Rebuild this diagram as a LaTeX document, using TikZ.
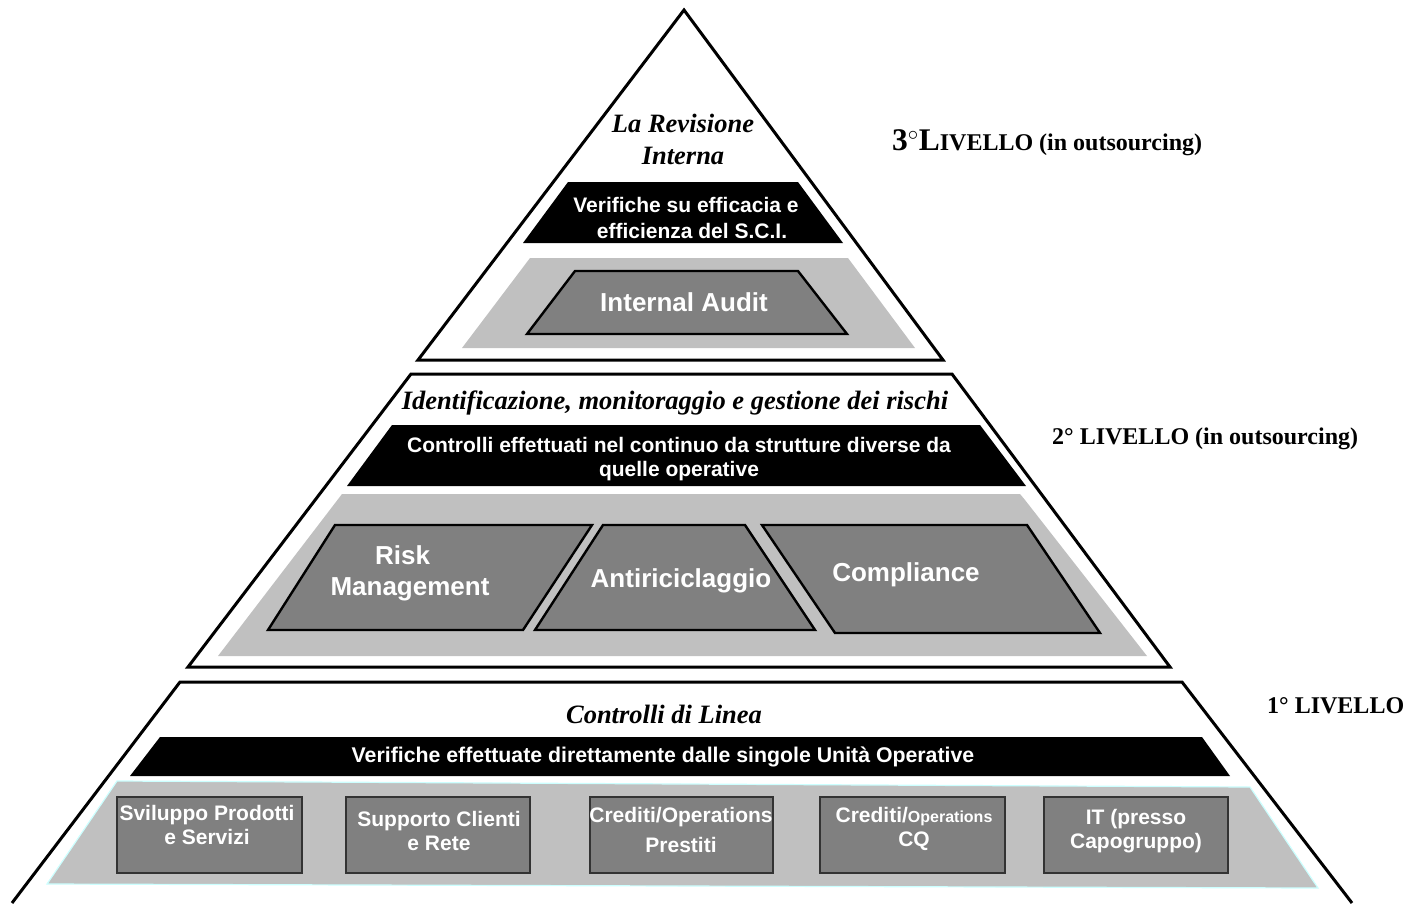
\documentclass[tikz,border=0pt]{standalone}
\usepackage{fontspec}
\setmainfont{Liberation Serif}
\newfontfamily\arialf{Liberation Sans}
\definecolor{lgray}{HTML}{C0C0C0}
\definecolor{dgray}{HTML}{808080}
\definecolor{lcyan}{HTML}{CCFFFF}
\tikzset{
  outline/.style={draw=black, line width=3pt, line join=miter},
  blackband/.style={fill=black},
  lightband/.style={fill=lgray},
  darkbox/.style={fill=dgray, draw=black, line width=2.4pt},
  unitbox/.style={fill=dgray, draw=black!80, line width=1.2pt},
  wtxt/.style={text=white, font=\arialf\bfseries\fontsize{21}{24}\selectfont, align=center, inner sep=0pt},
  bigtxt/.style={text=white, font=\arialf\bfseries\fontsize{26}{31}\selectfont, align=center, inner sep=0pt},
  head/.style={font=\bfseries\itshape\fontsize{26.5}{32}\selectfont, align=center, inner sep=0pt},
  lvl/.style={font=\bfseries\fontsize{24}{28}\selectfont, anchor=base west, inner sep=0pt}
}
\begin{document}
\begin{tikzpicture}[x=1pt,y=-1pt]
\useasboundingbox (0,0) rectangle (1416,903);
% ---------- Level 3 ----------
\draw[outline] (684,10) -- (943,360) -- (418,360) -- cycle;
\node[head] (h3) at (683,139) {La Revisione\\Interna};
\fill[blackband] (568,182) -- (798,182) -- (843,243) -- (523,243) -- cycle;
\node[wtxt, font=\arialf\bfseries\fontsize{21}{26}\selectfont] (t3) at (686,218) {Verifiche su efficacia e\\\hspace*{12pt}efficienza del S.C.I.};
\fill[lightband] (530,258) -- (848,258) -- (915,348) -- (462,348) -- cycle;
\draw[darkbox] (575,271) -- (798,271) -- (847,334) -- (527,334) -- cycle;
\node[bigtxt] (ia) at (684,302) {Internal Audit};
% ---------- Level 2 ----------
\draw[outline] (411,374) -- (952,374) -- (1170,667) -- (188,667) -- cycle;
\node[head] (h2) at (675,403) {Identificazione, monitoraggio e gestione dei rischi};
\fill[blackband] (392,425) -- (980,425) -- (1026,486) -- (347,486) -- cycle;
\node[wtxt] (t2) at (679,459) {Controlli effettuati nel continuo da strutture diverse da\\quelle operative};
\fill[lightband] (342,494) -- (1020,494) -- (1025,500) -- (1147,656) -- (218,656) -- cycle;
\draw[darkbox] (335,525) -- (592,525) -- (523,630) -- (268,630) -- cycle;
\node[bigtxt] (rm) at (410,573) {\hspace*{-15pt}Risk\\Management};
\draw[darkbox] (603,525) -- (745,525) -- (815,630) -- (535,630) -- cycle;
\node[bigtxt] (ar) at (681,581) {Antiriciclaggio};
\draw[darkbox] (762,525) -- (1027,525) -- (1100,633) -- (835,633) -- cycle;
\node[bigtxt] (co) at (906,575) {Compliance};
% ---------- Level 1 ----------
\draw[outline] (12,903) -- (180,682) -- (1182,682) -- (1352,903);
\node[head] (h1) at (664,714) {Controlli di Linea};
\fill[blackband] (160,737) -- (1202,737) -- (1230,776) -- (130,776) -- cycle;
\node[wtxt, font=\arialf\bfseries\fontsize{21.3}{24}\selectfont] (t1) at (663,757) {Verifiche effettuate direttamente dalle singole Unità Operative};
\filldraw[fill=lgray, draw=lcyan, line width=1.2pt] (117,781) -- (1250,787) -- (1318,888) -- (47,884) -- cycle;
\draw[unitbox] (117,797) rectangle (302,873);
\node[wtxt] (u1) at (207,825) {Sviluppo Prodotti\\e Servizi};
\draw[unitbox] (346,797) rectangle (530,873);
\node[wtxt] (u2) at (439,831) {Supporto Clienti\\e Rete};
\draw[unitbox] (590,797) rectangle (773,873);
\node[wtxt, font=\arialf\bfseries\fontsize{21}{30}\selectfont] (u3) at (681,830) {Crediti/Operations\\Prestiti};
\draw[unitbox] (820,797) rectangle (1005,873);
\node[wtxt] (u4) at (914,829) {Crediti/{\fontsize{16}{24}\selectfont Operations}\\CQ};
\draw[unitbox] (1044,797) rectangle (1228,873);
\node[wtxt] (u5) at (1136,831) {IT (presso\\Capogruppo)};
% ---------- Level labels ----------
\node[lvl] (l3) at (892,150) {{\fontsize{31.5}{34}\selectfont 3$^{\circ}$L}IVELLO (in outsourcing)};
\node[lvl] (l2) at (1052,444) {2° LIVELLO (in outsourcing)};
\node[lvl] (l1) at (1267,713) {1° LIVELLO};
\end{tikzpicture}
\end{document}
